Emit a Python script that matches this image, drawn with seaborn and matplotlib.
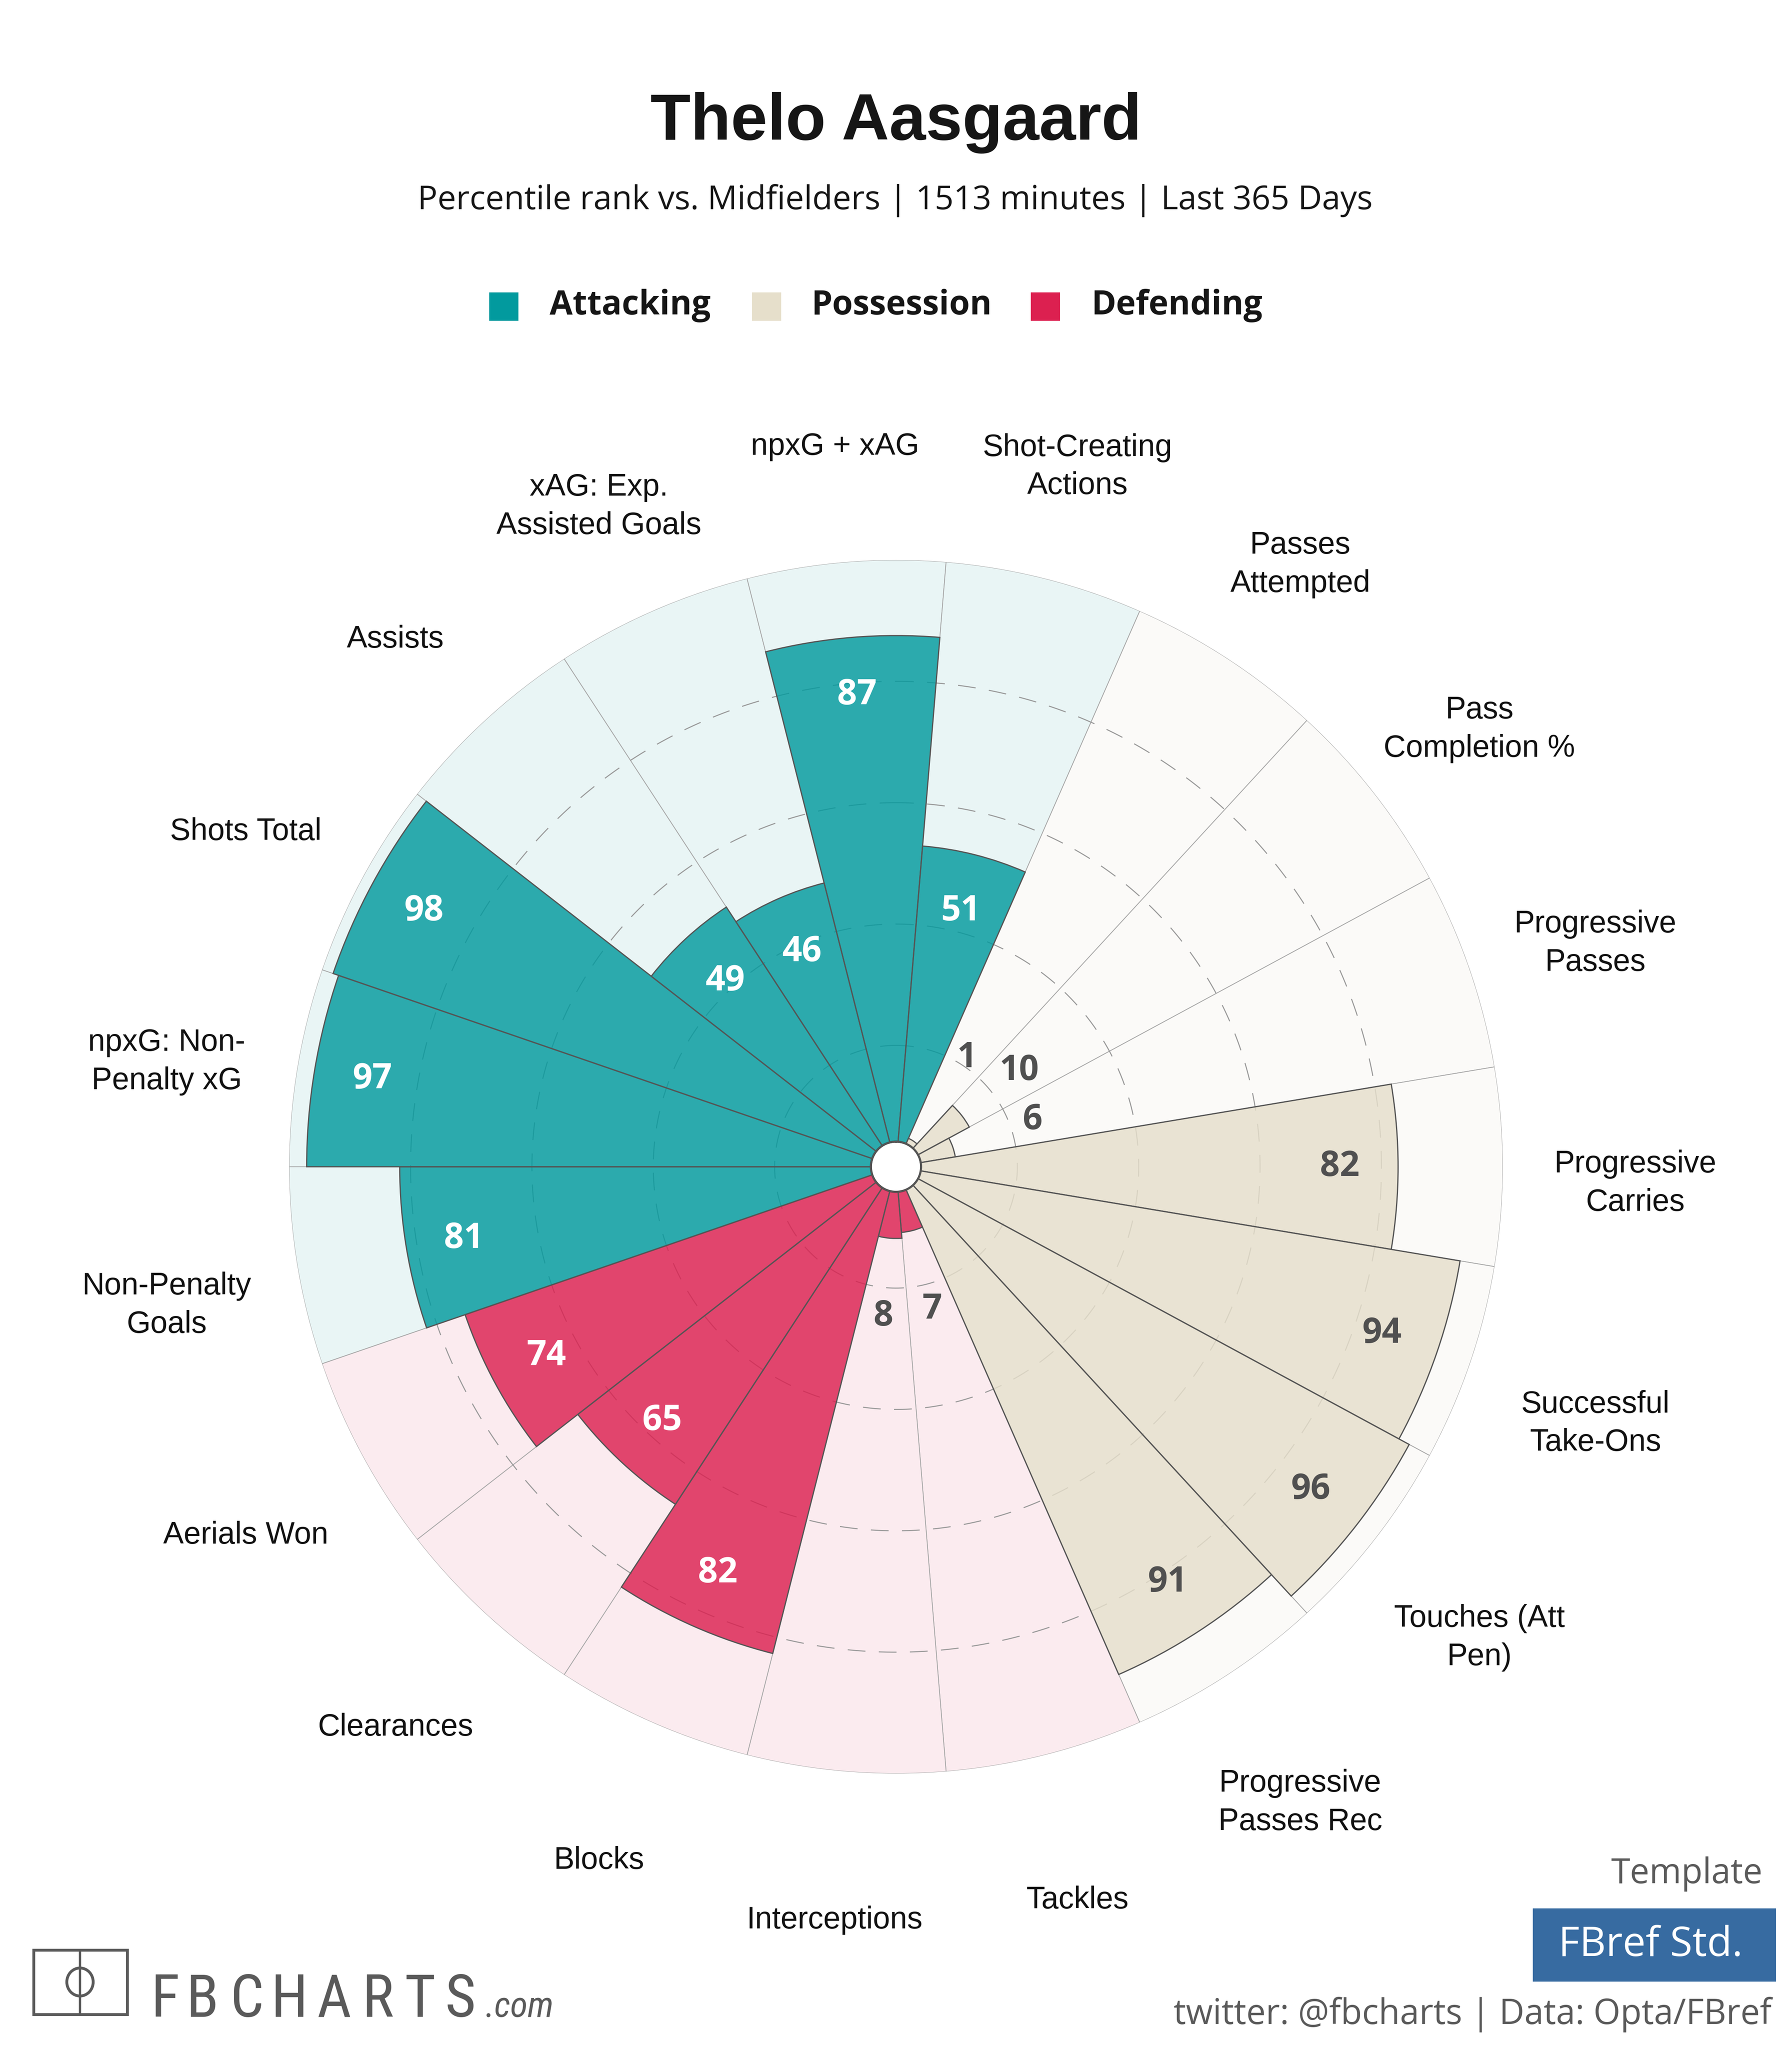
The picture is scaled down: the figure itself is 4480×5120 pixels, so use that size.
import numpy as np
import pandas as pd
import seaborn as sns
import matplotlib
matplotlib.use("Agg")
import matplotlib.pyplot as plt
from matplotlib import font_manager as fm
from matplotlib.patches import Rectangle, Ellipse
from matplotlib.transforms import offset_copy

# ---- data (clockwise, starting just below 9 o'clock) ----
params = ["Non-Penalty\nGoals", "npxG: Non-\nPenalty xG", "Shots Total", "Assists",
          "xAG: Exp.\nAssisted Goals", "npxG + xAG", "Shot-Creating\nActions",
          "Passes\nAttempted", "Pass\nCompletion %", "Progressive\nPasses",
          "Progressive\nCarries", "Successful\nTake-Ons", "Touches (Att\nPen)",
          "Progressive\nPasses Rec", "Tackles", "Interceptions", "Blocks",
          "Clearances", "Aerials Won"]
values = [81, 97, 98, 49, 46, 87, 51, 1, 10, 6, 82, 94, 96, 91, 7, 8, 82, 65, 74]
groups = ["Attacking"] * 7 + ["Possession"] * 7 + ["Defending"] * 5

group_names = ["Attacking", "Possession", "Defending"]
group_colors = ["#029A9E", "#E6DFCB", "#DC2050"]
group_bg = ["#E9F5F5", "#FBFAF8", "#FBEBEF"]
group_txt = ["#FFFFFF", "#505050", "#FFFFFF"]

title = "Thelo Aasgaard"
subtitle = "Percentile rank vs. Midfielders | 1513 minutes | Last 365 Days"

sns.set_theme(style="white")
plt.rcParams["font.family"] = ["Liberation Sans", "DejaVu Sans"]
plt.rcParams["lines.scale_dashes"] = False
OPEN = ["Open Sans", "DejaVu Sans"]


def has_font(name):
    try:
        fm.findfont(fm.FontProperties(family=name), fallback_to_default=False)
        return True
    except ValueError:
        return False


narrow = next((f for f in ["Liberation Sans Narrow", "DejaVu Sans Condensed",
                           "Roboto Condensed", "Open Sans Condensed"] if has_font(f)),
              "Liberation Sans")

df = pd.DataFrame({"param": params, "value": values, "group": groups})
pal = dict(zip(group_names, sns.color_palette(group_colors)))
bg = dict(zip(group_names, group_bg))
txtc = dict(zip(group_names, group_txt))

fig = plt.figure(figsize=(14, 16), dpi=320)
fig.patch.set_facecolor("white")

ax = fig.add_axes([0.5 - 0.3386, 0.4303 - 0.2963, 0.6772, 0.5926], projection="polar")
ax.set_theta_zero_location("N")
ax.set_theta_direction(-1)
ax.set_ylim(0, 100)
ax.set_rorigin(-4.33)
ax.grid(False)
ax.set_xticks([])
ax.set_yticks([])
ax.spines["polar"].set_visible(False)
ax.set_facecolor("none")

n = len(df)
w = 2 * np.pi / n
theta = np.deg2rad(270) - w / 2 + w * np.arange(n)

# background slices
ax.bar(theta, [100] * n, width=w, bottom=0,
       color=[bg[g] for g in df["group"]], edgecolor="#a8a8a8", linewidth=0.45, zorder=1)

# dashed rings at 20/40/60/80 % of the radius
full = np.linspace(0, 2 * np.pi, 500)
for frac in [0.2, 0.4, 0.6, 0.8]:
    rr = frac * 104.33 - 4.33
    ax.plot(full, np.full_like(full, rr), color="#9a9a9a", lw=0.6,
            ls=(0, (10, 7.5)), zorder=2)

# value bars
face = [matplotlib.colors.to_rgba(pal[g], 0.82) for g in df["group"]]
ax.bar(theta, df["value"], width=w, bottom=0, color=face,
       edgecolor="#555555", linewidth=0.7, zorder=3)

# centre hole outline
ax.plot(full, np.zeros_like(full), color="#555555", lw=1.0, zorder=4, clip_on=False)

# value labels
for t, v, g in zip(theta, df["value"], df["group"]):
    if v >= 20:
        r, c = v - 10, txtc[g]
    else:
        r, c = 17.5 + 0.5 * v, "#505050"
    ax.text(t, r, str(v), ha="center", va="center", fontsize=19.5,
            fontweight="bold", color=c, family=OPEN, zorder=6)

# parameter labels
lab_tr = offset_copy(ax.transData, fig=fig, x=0, y=-42, units="dots")
for t, p in zip(theta, df["param"]):
    ax.text(t, 122.8, p, ha="center", va="center", fontsize=17.3, color="#111111",
            linespacing=1.4, transform=lab_tr, zorder=6)

# title block
fig.text(0.5, 0.9318, title, ha="center", va="baseline", fontsize=37,
         fontweight="bold", color="#161616")
fig.text(0.4996, 0.8979, subtitle, ha="center", va="baseline", fontsize=18.6,
         color="#161616", family=OPEN)

# legend
sq_x = [1223, 1880, 2577]
tx_x = [1374, 2029, 2729]
for g, c, sx, tx in zip(group_names, group_colors, sq_x, tx_x):
    fig.patches.append(Rectangle((sx / 4480, 1 - 802 / 5120), 73 / 4480, 71 / 5120,
                                 transform=fig.transFigure, facecolor=c, edgecolor="none"))
    fig.text(tx / 4480, 0.8465, g, ha="left", va="baseline", fontsize=18.8,
             fontweight="bold", color="#161616", family=OPEN)

# footer right
fig.text(0.9835, 0.0805, "Template", ha="right", va="baseline", fontsize=19.5,
         color="#5a5a5a", family=OPEN)
fig.patches.append(Rectangle((0.8554, 0.0324), 0.1357, 0.0357, transform=fig.transFigure,
                             facecolor="#376BA1", edgecolor="none"))
fig.text(0.921, 0.0449, "FBref Std.", ha="center", va="baseline", fontsize=23,
         color="white", family=OPEN)
fig.text(0.9886, 0.0117, "twitter: @fbcharts | Data: Opta/FBref", ha="right",
         va="baseline", fontsize=19.5, color="#5a5a5a", family=OPEN)

# footer left logo
fig.patches.append(Rectangle((84 / 4480, 1 - 5036 / 5120), 234 / 4480, 161 / 5120,
                             transform=fig.transFigure, facecolor="none",
                             edgecolor="#5a5a5a", linewidth=1.6))
fig.lines.append(plt.Line2D([200 / 4480, 200 / 4480], [1 - 5036 / 5120, 1 - 4875 / 5120],
                            transform=fig.transFigure, color="#5a5a5a", lw=1.3))
fig.patches.append(Ellipse((200 / 4480, 1 - 4955 / 5120), 66 / 4480, 70 / 5120,
                           transform=fig.transFigure, facecolor="none",
                           edgecolor="#5a5a5a", linewidth=1.6))
logo_x = [378, 466, 576, 678, 793, 906, 1012, 1113]
logo = [fig.text(lx / 4480, 0.0152, ch, ha="left", va="baseline", fontsize=56,
                 color="#5a5a5a", family=narrow)
        for ch, lx in zip("FBCHARTS", logo_x)]
# shrink the letters until each fits its slot
fig.canvas.draw()
rend = fig.canvas.get_renderer()
widest = max(t.get_window_extent(rend).width for t in logo)
if widest > 92:
    for t in logo:
        t.set_fontsize(56 * 92 / widest)
fig.text(1214 / 4480, 0.0152, ".com", ha="left", va="baseline", fontsize=20,
         style="italic", color="#5a5a5a", family=narrow)

fig.savefig("out.png", dpi=320, facecolor="white")
